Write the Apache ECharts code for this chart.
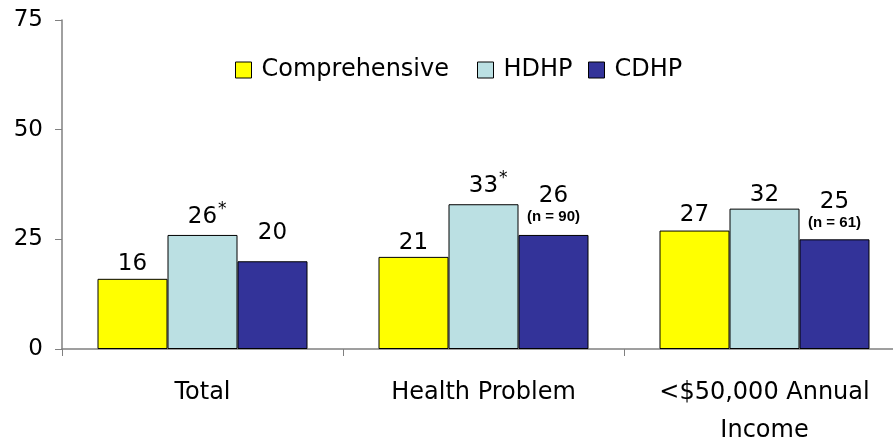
<!DOCTYPE html>
<html>
<head>
<meta charset="utf-8">
<script src="https://cdn.jsdelivr.net/npm/echarts@6/dist/echarts.min.js"></script>
<style>
  html, body { margin: 0; padding: 0; background: #fff; }
  #chart { width: 893px; height: 440px; }
</style>
</head>
<body>
<div id="chart"></div>
<script>
// Share of enrollees by plan type, three population groups
const categories = ['Total', 'Health Problem', '<$50,000 Annual\nIncome'];
const comprehensive = [16, 21, 27];
const hdhp = [26, 33, 32];
const cdhp = [20, 26, 25];
const hdhpFlags = ['*', '*', ''];
const cdhpNotes = ['', '(n = 90)', '(n = 61)'];
const yTicks = [0, 25, 50, 75];

const FONT = 'DejaVu Sans';
const colors = { comp: '#FFFF00', hdhp: '#BBE0E3', cdhp: '#333399' };

// gap between bar tops and their value labels
const compGap = [3, 2, 4];
const hdhpGap = [10, 10, 2];
const cdhpGap = [16, 10, 8];

const valueRich = {
  v: { fontFamily: FONT, fontSize: 23, color: '#000', lineHeight: 24 },
  w: { fontFamily: FONT, fontSize: 23, color: '#000', lineHeight: 24, padding: [8, 0, 0, 0] },
  p: { width: 10 },
  s: { fontFamily: FONT, fontSize: 17, color: '#000', width: 10, align: 'left', verticalAlign: 'top', lineHeight: 2 },
  n: { fontFamily: 'Liberation Sans', fontSize: 15, fontWeight: 'bold', color: '#000', lineHeight: 17 }
};

function items(values, gaps, fmt) {
  return values.map((v, i) => ({
    value: v,
    label: { distance: gaps[i], formatter: fmt(v, i) }
  }));
}

const chart = echarts.init(document.getElementById('chart'), null, { renderer: 'canvas' });

const barBase = {
  type: 'bar',
  barWidth: 70,
  barGap: '0%',
  label: { show: true, position: 'top', rich: valueRich }
};

const legendBase = {
  orient: 'horizontal',
  top: 58,
  padding: 0,
  itemWidth: 16,
  itemHeight: 16,
  itemGap: 10,
  textStyle: { fontFamily: FONT, fontSize: 24, color: '#000', padding: [0, 0, 0, 5] },
  icon: 'rect'
};

const legendIcon = { borderColor: '#000', borderWidth: 1 };

chart.setOption({
  animation: false,
  grid: { left: 62, top: 20, width: 843, bottom: 91, containLabel: false, outerBoundsMode: 'none' },
  legend: [
    Object.assign({}, legendBase, { left: 235, data: [{ name: 'Comprehensive', itemStyle: legendIcon }] }),
    Object.assign({}, legendBase, { left: 477, data: [{ name: 'HDHP', itemStyle: legendIcon }] }),
    Object.assign({}, legendBase, { left: 588, data: [{ name: 'CDHP', itemStyle: legendIcon }] })
  ],
  xAxis: {
    type: 'category',
    data: categories,
    axisLine: { lineStyle: { color: '#808080', width: 1.5 } },
    axisTick: { show: true, length: 7, inside: false, alignWithLabel: false, lineStyle: { color: '#808080', width: 1 } },
    axisLabel: { fontFamily: FONT, fontSize: 24, color: '#000', margin: 25, lineHeight: 38, interval: 0, hideOverlap: false }
  },
  yAxis: {
    type: 'value',
    min: yTicks[0],
    max: yTicks[yTicks.length - 1],
    interval: yTicks[1] - yTicks[0],
    splitLine: { show: false },
    axisLine: { show: true, lineStyle: { color: '#808080', width: 1.5 } },
    axisTick: { show: true, length: 7, lineStyle: { color: '#808080', width: 1 } },
    axisLabel: { fontFamily: FONT, fontSize: 23, color: '#000', margin: 19 }
  },
  series: [
    Object.assign({}, barBase, {
      name: 'Comprehensive',
      itemStyle: { color: colors.comp, borderColor: '#000', borderWidth: 1 },
      data: items(comprehensive, compGap, v => '{v|' + v + '}')
    }),
    Object.assign({}, barBase, {
      name: 'HDHP',
      itemStyle: { color: colors.hdhp, borderColor: '#000', borderWidth: 1 },
      data: items(hdhp, hdhpGap, (v, i) => hdhpFlags[i]
        ? '{p|}{w|' + v + '}{s|' + hdhpFlags[i] + '}'
        : '{v|' + v + '}')
    }),
    Object.assign({}, barBase, {
      name: 'CDHP',
      itemStyle: { color: colors.cdhp, borderColor: '#000', borderWidth: 1 },
      data: items(cdhp, cdhpGap, (v, i) => cdhpNotes[i]
        ? '{v|' + v + '}\n{n|' + cdhpNotes[i] + '}'
        : '{v|' + v + '}')
    })
  ]
});
</script>
</body>
</html>
